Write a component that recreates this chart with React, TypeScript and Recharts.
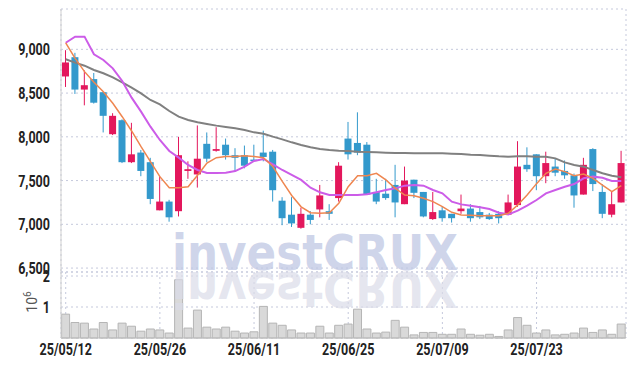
import {
  ComposedChart,
  Bar,
  Line,
  XAxis,
  YAxis,
  CartesianGrid,
} from "recharts";

const dates = [
  "25/05/12", "25/05/13", "25/05/14", "25/05/15", "25/05/16",
  "25/05/19", "25/05/20", "25/05/21", "25/05/22", "25/05/23",
  "25/05/26", "25/05/27", "25/05/28", "25/05/29", "25/05/30",
  "25/06/02", "25/06/04", "25/06/05",
  "25/06/09", "25/06/10", "25/06/11", "25/06/12", "25/06/13",
  "25/06/16", "25/06/17", "25/06/18", "25/06/19", "25/06/20",
  "25/06/23", "25/06/24", "25/06/25", "25/06/26", "25/06/27",
  "25/06/30", "25/07/01", "25/07/02", "25/07/03", "25/07/04",
  "25/07/07", "25/07/08", "25/07/09", "25/07/10", "25/07/11",
  "25/07/14", "25/07/15", "25/07/16", "25/07/17", "25/07/18",
  "25/07/21", "25/07/22", "25/07/23", "25/07/24", "25/07/25",
  "25/07/28", "25/07/29", "25/07/30", "25/07/31", "25/08/01",
  "25/08/04", "25/08/05",
];

const opens = [
  8690, 8910, 8540, 8660, 8510, 8030, 8190, 7710, 7820, 7710,
  7160, 7260, 7150, 7610, 7570, 7920, 7840, 7910, 7790, 7790,
  7740, 7820, 7830, 7270, 7110, 6960, 7110, 7170, 7150, 7300,
  7980, 7930, 7910, 7370, 7350, 7450, 7230, 7510, 7370, 7060,
  7160, 7120, 7150, 7180, 7140, 7110, 7120, 7110, 7220, 7680,
  7800, 7550, 7660, 7610, 7560, 7340, 7860, 7370, 7110, 7250,
];
const highs = [
  8990, 8960, 8760, 8730, 8510, 8270, 8200, 8160, 7850, 7760,
  7550, 7280, 8000, 7720, 8130, 8050, 8110, 7980, 7870, 7900,
  7910, 8070, 7850, 7310, 7310, 7190, 7150, 7450, 7230, 7710,
  8170, 8280, 7940, 7520, 7520, 7680, 7660, 7510, 7370, 7370,
  7200, 7120, 7340, 7230, 7210, 7130, 7150, 7340, 7950, 7880,
  7800, 7830, 7750, 7730, 7580, 7760, 7870, 7460, 7370, 7840,
];
const lows = [
  8570, 8490, 8360, 8380, 8050, 8020, 7700, 7700, 7550, 7230,
  7160, 7030, 7090, 7520, 7420, 7710, 7830, 7740, 7600, 7640,
  7720, 7720, 7260, 6990, 6970, 6950, 7000, 7080, 7050, 7260,
  7740, 7790, 7340, 7230, 7280, 7080, 7230, 7300, 7080, 7050,
  7030, 7020, 7120, 7030, 7060, 7050, 7010, 7110, 7200, 7600,
  7390, 7470, 7550, 7520, 7190, 7340, 7380, 7070, 7080, 7250,
];
const closes = [
  8850, 8540, 8590, 8390, 8240, 8240, 7710, 7800, 7610, 7290,
  7260, 7080, 7790, 7630, 7750, 7750, 7860, 7790, 7760, 7670,
  7730, 7770, 7390, 7070, 7010, 7120, 7050, 7330, 7120, 7670,
  7800, 7820, 7340, 7260, 7300, 7250, 7500, 7360, 7090, 7140,
  7070, 7070, 7180, 7070, 7080, 7060, 7070, 7250, 7660, 7630,
  7550, 7700, 7590, 7560, 7330, 7680, 7460, 7120, 7230, 7700,
];

const ma5 = [
  9075, 8897, 8745, 8623, 8516, 8383, 8230, 8067, 7887, 7716,
  7545, 7419, 7419, 7430, 7560, 7700, 7762, 7775, 7775, 7785,
  7775, 7760, 7660, 7490, 7330, 7200, 7133, 7126, 7133, 7240,
  7430, 7556, 7556, 7583, 7507, 7411, 7335, 7327, 7297, 7259,
  7202, 7137, 7106, 7103, 7099, 7099, 7099, 7126, 7221, 7335,
  7465, 7583, 7632, 7602, 7556, 7575, 7526, 7449, 7373, 7442,
];
const ma20 = [
  9075, 9145, 9145, 8943, 8878, 8783, 8638, 8448, 8288, 8116,
  7964, 7838, 7762, 7678, 7621, 7587, 7587, 7590, 7609, 7659,
  7724, 7747, 7686, 7621, 7564, 7507, 7419, 7366, 7335, 7335,
  7335, 7335, 7343, 7366, 7392, 7411, 7442, 7449, 7442, 7392,
  7354, 7259, 7228, 7213, 7194, 7175, 7133, 7114, 7156, 7213,
  7278, 7354, 7392, 7430, 7461, 7526, 7545, 7533, 7495, 7495,
];
const ma60 = [
  8886, 8848, 8813, 8764, 8726, 8680, 8623, 8562, 8497, 8421,
  8371, 8295, 8230, 8192, 8166, 8147, 8128, 8112, 8097, 8078,
  8051, 8036, 8002, 7971, 7937, 7907, 7880, 7861, 7849, 7842,
  7838, 7830, 7827, 7823, 7819, 7815, 7815, 7811, 7811, 7811,
  7811, 7807, 7804, 7796, 7792, 7785, 7777, 7773, 7777, 7777,
  7773, 7773, 7754, 7708, 7678, 7659, 7621, 7583, 7556, 7537,
];

const volumes = [
  770000, 500000, 480000, 290000, 500000, 260000, 480000, 380000, 220000, 290000,
  260000, 160000, 1880000, 320000, 900000, 350000, 290000, 350000, 220000, 160000,
  200000, 1020000, 480000, 410000, 260000, 160000, 160000, 380000, 160000, 410000,
  450000, 930000, 290000, 160000, 190000, 570000, 350000, 100000, 180000, 180000,
  120000, 120000, 290000, 120000, 90000, 120000, 50000, 260000, 660000, 410000,
  160000, 260000, 100000, 120000, 160000, 320000, 180000, 260000, 120000, 450000,
];

const priceTicks = [6500, 7000, 7500, 8000, 8500, 9000];
const volumeTicks = [1000000, 2000000];

const RED = "#e3175c";
const BLUE = "#3399cc";
const FONT = "Roboto, 'DejaVu Sans', sans-serif";

const data = dates.map((d, i) => ({
  date: d,
  open: opens[i],
  high: highs[i],
  low: lows[i],
  close: closes[i],
  range: [lows[i], highs[i]],
  ma5: ma5[i],
  ma20: ma20[i],
  ma60: ma60[i],
  volume: volumes[i],
}));

// narrow bold label, squeezed horizontally
const NarrowTick = (props: any) => {
  const { x, y, payload, textAnchor, tickFormatter, vertical } = props;
  const label = tickFormatter ? tickFormatter(payload.value) : payload.value;
  return (
    <g transform={`translate(${x},${y})`}>
      <text
        transform="scale(0.76,1)"
        textAnchor={textAnchor}
        dy={vertical ? "0.36em" : "0.71em"}
        fontSize={16.5}
        fontFamily={FONT}
        fontWeight="bold"
        fill="#222"
      >
        {label}
      </text>
    </g>
  );
};

const Candle = (props: any) => {
  const { x, y, width, height, payload } = props;
  const { open, close, high, low } = payload;
  const color = close >= open ? RED : BLUE;
  const k = height / (high - low || 1);
  const py = (v: number) => y + (high - v) * k;
  const top = py(Math.max(open, close));
  const bot = py(Math.min(open, close));
  const cx = x + width / 2;
  return (
    <g>
      <line x1={cx} x2={cx} y1={y} y2={y + height} stroke={color} strokeWidth={1} />
      <rect x={x} y={top} width={width} height={Math.max(bot - top, 1.5)} fill={color} />
    </g>
  );
};

const VolumeUnit = (props: any) => {
  const { viewBox } = props;
  const cx = viewBox.x + 37;
  const cy = viewBox.y + 30;
  return (
    <text
      x={cx}
      y={cy}
      transform={`rotate(-90 ${cx} ${cy})`}
      textAnchor="middle"
      fontSize={14}
      fontFamily={FONT}
      fill="#555"
    >
      10
      <tspan dy={-6} fontSize={10}>6</tspan>
    </text>
  );
};

export default function App() {
  return (
    <div style={{ position: "absolute", left: 0, top: 0, width: 634, height: 366, background: "#fff" }}>
      <ComposedChart width={634} height={290} data={data} margin={{ top: 9, right: 8, left: 0, bottom: 18 }}>
        <CartesianGrid strokeDasharray="2 3" stroke="#c5c9dc" />
        <XAxis dataKey="date" interval={9} tick={false} tickLine={false} height={0} axisLine={{ stroke: "#bdbdbd" }} />
        <XAxis xAxisId="top" orientation="top" dataKey="date" tick={false} tickLine={false} height={0} axisLine={{ stroke: "#dcdcdc" }} />
        <YAxis
          domain={[6455, 9461]}
          ticks={priceTicks}
          interval={0}
          width={61}
          tickLine={false}
          tickMargin={5}
          axisLine={{ stroke: "#cfcfcf" }}
          tick={<NarrowTick vertical />}
          tickFormatter={(v) => v.toLocaleString("en-US")}
          allowDataOverflow
        />
        <YAxis yAxisId="right" orientation="right" width={0} domain={[6455, 9461]} tick={false} tickLine={false} axisLine={{ stroke: "#dcdcdc" }} />
        <Bar dataKey="range" barSize={7} shape={Candle} isAnimationActive={false} />
        <Line type="linear" dataKey="ma60" stroke="#808080" strokeWidth={2} dot={false} isAnimationActive={false} />
        <Line type="linear" dataKey="ma20" stroke="#cc5ce8" strokeWidth={2} dot={false} isAnimationActive={false} />
        <Line type="linear" dataKey="ma5" stroke="#ef8650" strokeWidth={1.5} dot={false} isAnimationActive={false} />
      </ComposedChart>
      <div style={{ position: "absolute", left: 0, top: 262 }}>
        <ComposedChart width={634} height={104} data={data} barCategoryGap={0.6} margin={{ top: 10, right: 8, left: 0, bottom: 0 }}>
          <CartesianGrid strokeDasharray="2 3" stroke="#c5c9dc" />
          <XAxis
            dataKey="date"
            interval={9}
            height={28}
            tickLine={false}
            tickSize={0}
            tickMargin={5}
            axisLine={{ stroke: "#bdbdbd" }}
            tick={<NarrowTick />}
          />
          <YAxis
            domain={[0, 2130000]}
            ticks={volumeTicks}
            interval={0}
            width={61}
            tickLine={false}
            tickMargin={5}
            axisLine={{ stroke: "#cfcfcf" }}
            tick={<NarrowTick vertical />}
            tickFormatter={(v) => String(v / 1000000)}
            label={<VolumeUnit />}
          />
          <Bar dataKey="volume" fill="#d9d9d9" stroke="#b5b5b5" strokeWidth={1} isAnimationActive={false} />
        </ComposedChart>
      </div>
      <svg width={634} height={366} style={{ position: "absolute", left: 0, top: 0, pointerEvents: "none" }}>
        <text
          x={172}
          y={270}
          textLength={286}
          lengthAdjust="spacingAndGlyphs"
          fontSize={50}
          fontWeight="bold"
          fontFamily="'DejaVu Sans', sans-serif"
          fill="#bfc7e3"
          fillOpacity={0.75}
        >
          investCRUX
        </text>
        <g transform="translate(0 542) scale(1 -1)">
          <text
            x={172}
            y={270}
            textLength={286}
            lengthAdjust="spacingAndGlyphs"
            fontSize={50}
            fontWeight="bold"
            fontFamily="'DejaVu Sans', sans-serif"
            fill="#dadbe8"
            fillOpacity={0.7}
          >
            investCRUX
          </text>
        </g>
      </svg>
    </div>
  );
}
